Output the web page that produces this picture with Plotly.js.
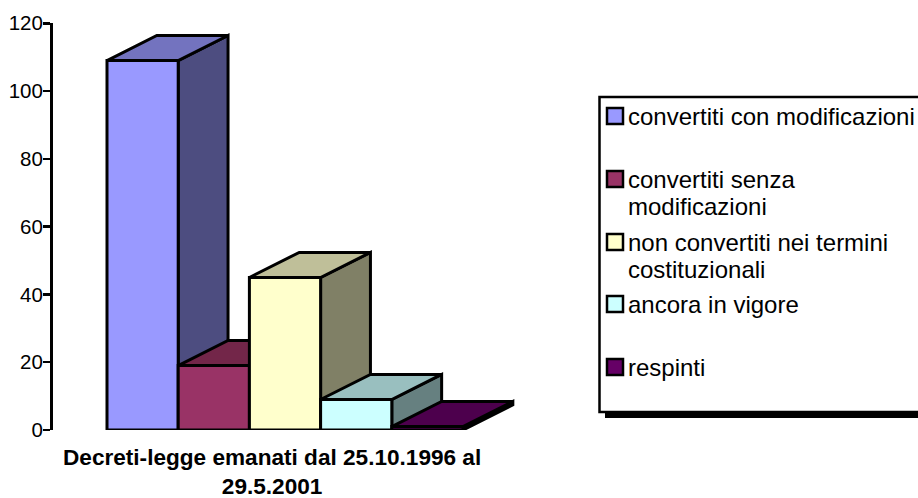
<!DOCTYPE html>
<html>
<head>
<meta charset="utf-8">
<script src="https://cdn.plot.ly/plotly-3.0.1.min.js"></script>
<style>html,body{margin:0;padding:0;background:#fff}#chart{width:918px;height:498px}</style>
</head>
<body>
<div id="chart"></div>
<script>
const categories = ["convertiti con modificazioni","convertiti senza<br>modificazioni","non convertiti nei termini<br>costituzionali","ancora in vigore","respinti"];
const values = [109, 19, 45, 9, 1];
const frontColors = ["#9999FF","#993366","#FFFFCC","#CCFFFF","#660066"];
const topColors = ["#7373BF","#732649","#BFBF99","#99BFBF","#4D004D"];
const sideColors = ["#4D4D80","#4D1A33","#808066","#668080","#330033"];
const tickValues = [0,20,40,60,80,100,120];
const xTitle = "Decreti-legge emanati dal 25.10.1996 al<br>29.5.2001";

const W = 918, H = 498;
const px = v => v / W, py = v => 1 - v / H;
const depthX = 0.70, depthY = 7.4, LW = 3;
const font = "Liberation Sans, Arial, sans-serif";
const xRange = [(53-107)/71.2, (540-107)/71.2];

const traces = [];
function poly(xs, ys, color){
  traces.push({type:"scatter",mode:"lines",x:xs.concat(xs[0]),y:ys.concat(ys[0]),fill:"toself",fillcolor:color,
    line:{color:"#000",width:LW,shape:"linear"},cliponaxis:false,hoverinfo:"skip",showlegend:false});
}
values.forEach((v,i)=>{
  poly([i+1,i+1+depthX,i+1+depthX,i+1],[0,depthY,v+depthY,v],sideColors[i]);
  poly([i,i+depthX,i+1+depthX,i+1],[v,v+depthY,v+depthY,v],topColors[i]);
});
traces.push({type:"bar",x:values.map((v,i)=>i+0.5),y:values,width:1,xaxis:"x2",yaxis:"y2",
  marker:{color:frontColors,line:{color:"#000",width:LW}},hovertext:categories,hoverinfo:"text+y",textposition:"none",showlegend:false,cliponaxis:false});

const shapes = [
  {type:"rect",xref:"paper",yref:"paper",x0:px(605),x1:px(925),y0:py(411),y1:py(418),fillcolor:"#000",line:{width:0}},
  {type:"rect",xref:"paper",yref:"paper",x0:px(599.5),x1:px(930),y0:py(97),y1:py(412),fillcolor:"rgba(0,0,0,0)",line:{color:"#000",width:2.5}}
];
const legendCenters = [116,179,242,304,367];
const lineStep = 27;
const annotations = [];
categories.forEach((c,i)=>{
  const cy = legendCenters[i];
  shapes.push({type:"rect",xref:"paper",yref:"paper",x0:px(607),x1:px(623),y0:py(cy-8),y1:py(cy+8),fillcolor:frontColors[i],line:{color:"#000",width:2.5}});
  c.split("<br>").forEach((ln,j)=>{
    annotations.push({xref:"paper",yref:"paper",x:px(628),y:py(cy+j*lineStep),xanchor:"left",yanchor:"middle",align:"left",showarrow:false,
      text:ln,font:{family:font,size:24,color:"#000"},borderpad:0,borderwidth:0});
  });
});
annotations.push({xref:"paper",yref:"paper",x:px(272),y:py(444.5),xanchor:"center",yanchor:"top",align:"center",showarrow:false,
  text:xTitle,font:{family:font,size:22.6,color:"#000",weight:"bold"},borderpad:0,borderwidth:0});

const layout = {
  width:W,height:H,margin:{l:0,r:0,t:0,b:0},paper_bgcolor:"#fff",plot_bgcolor:"rgba(0,0,0,0)",
  showlegend:false,bargap:0,shapes,annotations,
  font:{family:font,color:"#000"},
  xaxis:{domain:[px(53),px(540)],range:xRange,showgrid:false,zeroline:false,showline:false,showticklabels:false,ticks:""},
  yaxis:{domain:[py(430),py(23.3)],range:[0,120],tickmode:"array",tickvals:tickValues,ticktext:tickValues.map(String),
    showgrid:false,zeroline:false,showline:true,linecolor:"#000",linewidth:3,ticks:"outside",ticklen:7,tickwidth:2.5,tickcolor:"#000",
    ticklabelstandoff:-4,tickfont:{family:font,size:20.5,color:"#000"}},
  xaxis2:{overlaying:"x",range:xRange,visible:false,anchor:"y2"},
  yaxis2:{overlaying:"y",range:[0,120],visible:false,anchor:"x2"}
};
Plotly.newPlot("chart",traces,layout,{displayModeBar:false,staticPlot:true});
</script>
</body>
</html>
